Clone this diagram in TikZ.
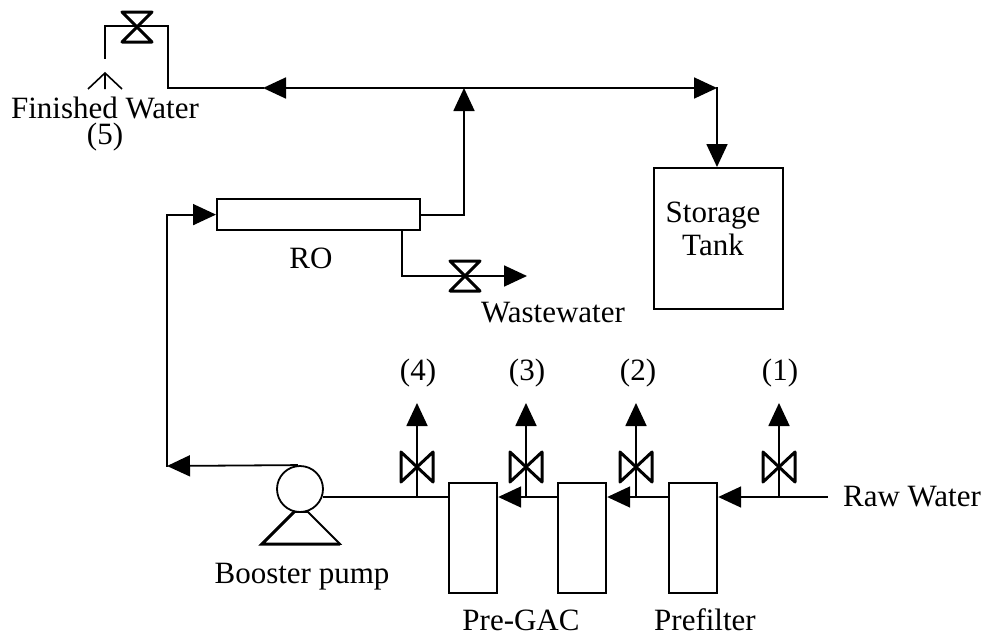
\documentclass[tikz,border=0pt]{standalone}
\usepackage{fontspec}
\setmainfont{Liberation Serif}
\usetikzlibrary{arrows.meta}
\tikzset{
  x=1pt,y=-1pt,
  pipe/.style={draw=black,line width=1.8pt,line cap=rect},
  flow/.style={pipe,-{Triangle[length=23pt,width=21pt]}},
  unitbox/.style={draw=black,line width=2.2pt,fill=white,inner sep=0pt,minimum width=48pt,minimum height=110pt,anchor=north west},
  lbl/.style={font=\fontsize{31}{33}\selectfont,inner sep=0pt,text=black,anchor=base},
  vbody/.style={draw=black,line width=3pt,line join=round},
}
\newcommand{\valveV}[2]{\draw[vbody] (#1-16,#2-15)--(#1+16,#2+15)--(#1+16,#2-15)--(#1-16,#2+15)--cycle;}
\newcommand{\valveH}[2]{\draw[vbody] (#1-15,#2-15)--(#1+15,#2-15)--(#1-15,#2+15)--(#1+15,#2+15)--cycle;}
\begin{document}
\begin{tikzpicture}
\useasboundingbox (0,0) rectangle (986,637);
% units
\node[unitbox] (gac1) at (448,482) {};
\node[unitbox] (gac2) at (557,482) {};
\node[unitbox] (pre) at (668,482) {};
\node[draw=black,line width=2.2pt,inner sep=0pt,minimum width=203pt,minimum height=31pt,anchor=north west] (ro) at (216,198) {};
\node[draw=black,line width=2.2pt,inner sep=0pt,minimum width=129pt,minimum height=141pt,anchor=north west] (tank) at (653,167) {};
\node[draw=black,line width=1.8pt,circle,minimum size=46pt,inner sep=0pt] (pump) at (300,489) {};
\draw[draw=black,line width=1.8pt] (294,512)--(308,512)--(340,544)--(262,544)--cycle;
\draw[draw=black,line width=3pt] (294,512)--(262,544)--(340,544);
% coordinates
\coordinate (raw) at (827,497);
\coordinate (b1) at (779,497);
\coordinate (b2) at (636,497);
\coordinate (b3) at (526,497);
\coordinate (b4) at (417,497);
\coordinate (t1) at (779,403);
\coordinate (t2) at (636,403);
\coordinate (t3) at (526,403);
\coordinate (t4) at (417,403);
\coordinate (j) at (464,88);
\coordinate (e) at (717,88);
\coordinate (c1) at (168,88);
\coordinate (c2) at (168,26);
\coordinate (c3) at (105,26);
\coordinate (c4) at (105,58);
\coordinate (a0) at (105,73);
\coordinate (pl) at (167,466);
\coordinate (rol) at (pl |- ro.west);
\coordinate (w0) at (402,230);
\coordinate (w1) at (402,276);
\coordinate (w2) at (527,276);
% main flow
\draw[flow] (raw) -- (pre.east |- raw);
\draw[flow] (pre.west |- raw) -- (gac2.east |- raw);
\draw[flow] (gac2.west |- raw) -- (gac1.east |- raw);
\draw[pipe] (gac1.west |- raw) -- (pump.east |- raw);
\draw[flow] (b1) -- (t1);
\draw[flow] (b2) -- (t2);
\draw[flow] (b3) -- (t3);
\draw[flow] (b4) -- (t4);
\valveV{779}{467}\valveV{636}{467}\valveV{526}{467}\valveV{417}{467}
% pump to RO
\draw[flow] (pump.north -| 297,466) -- (pl);
\draw[pipe] (pl) -- (rol);
\draw[flow] (rol) -- (ro.west);
% RO outlets
\draw[flow] (ro.east) -| (j);
\draw[pipe] (w0) -- (w1);
\draw[flow] (w1) -- (w2);
\valveH{465}{276}
% header
\draw[flow] (j) -- (e);
\draw[flow] (j) -- (263,88);
\draw[pipe] (263,88) -- (c1) -- (c2) -- (c3) -- (c4);
\valveH{137}{27}
\draw[flow] (e) -- (tank.north -| e);
% open arrow
\draw[draw=black,line width=1.6pt] (88,89) -- (a0) -- (122,89) (a0) -- (105,89);
% labels
\node[lbl] at (105,118) {Finished Water};
\node[lbl] at (105,144) {(5)};
\node[lbl] at (311,268) {RO};
\node[lbl] at (553,322) {Wastewater};
\node[lbl] at (418,380) {(4)};
\node[lbl] at (527,380) {(3)};
\node[lbl] at (638,380) {(2)};
\node[lbl] at (780,380) {(1)};
\node[lbl] at (912,506) {Raw Water};
\node[lbl] at (302,583) {Booster pump};
\node[lbl] at (521,630) {Pre-GAC};
\node[lbl] at (705,630) {Prefilter};
\node[lbl] at (713,222) {Storage};
\node[lbl] at (713,255) {Tank};
\end{tikzpicture}
\end{document}
